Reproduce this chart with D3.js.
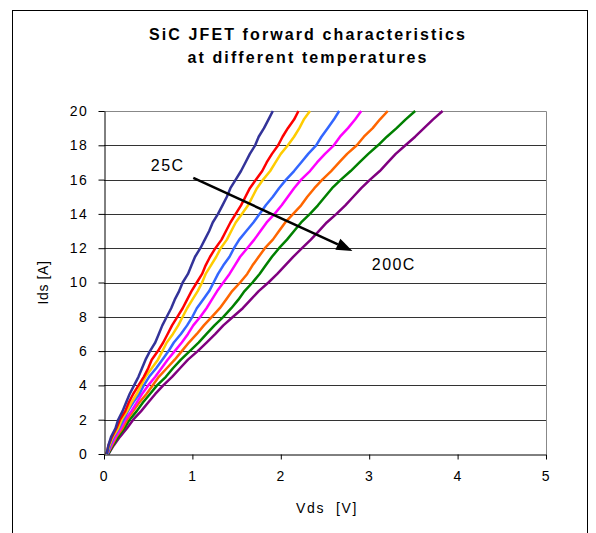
<!DOCTYPE html>
<html>
<head>
<meta charset="utf-8">
<script src="https://cdn.jsdelivr.net/npm/d3@7/dist/d3.min.js"></script>
<style>
  html, body { margin: 0; padding: 0; background: #fff; }
  svg { display: block; font-family: "Liberation Sans", Arial, sans-serif; }
</style>
</head>
<body>
<svg id="chart" width="596" height="533"></svg>
<script>
// Drain current (A) at which each curve is sampled
const current = [0, 0.5, 1, 1.5, 2, 2.5, 3, 3.5, 4, 4.5, 5, 5.5, 6, 6.5, 7, 7.5, 8, 8.5, 9, 9.5,
                 10, 10.5, 11, 11.5, 12, 12.5, 13, 13.5, 14, 14.5, 15, 15.5, 16, 16.5, 17, 17.5, 18, 18.5, 19, 19.5, 20];

// Drain-source voltage (V) for each temperature curve, 25C (first) to 200C (last)
const vds25  = [0.03, 0.05, 0.08, 0.13, 0.16, 0.21, 0.25, 0.29, 0.34, 0.39, 0.43, 0.47, 0.52, 0.58, 0.62, 0.66, 0.71, 0.76, 0.80, 0.85,
                0.89, 0.95, 0.99, 1.03, 1.09, 1.14, 1.19, 1.23, 1.29, 1.34, 1.39, 1.43, 1.49, 1.55, 1.60, 1.65, 1.71, 1.75, 1.81, 1.86, 1.91];
const vdsT2  = [0.03, 0.05, 0.09, 0.14, 0.18, 0.24, 0.28, 0.33, 0.39, 0.45, 0.50, 0.54, 0.61, 0.67, 0.72, 0.77, 0.83, 0.89, 0.94, 0.99,
                1.05, 1.11, 1.15, 1.20, 1.26, 1.33, 1.38, 1.43, 1.49, 1.55, 1.60, 1.65, 1.72, 1.79, 1.84, 1.90, 1.97, 2.02, 2.08, 2.15, 2.20];
const vdsT3  = [0.03, 0.06, 0.10, 0.16, 0.20, 0.26, 0.31, 0.37, 0.42, 0.47, 0.54, 0.61, 0.66, 0.71, 0.78, 0.84, 0.89, 0.94, 1.00, 1.06,
                1.11, 1.15, 1.21, 1.27, 1.32, 1.39, 1.44, 1.49, 1.56, 1.63, 1.68, 1.73, 1.80, 1.88, 1.94, 2.00, 2.08, 2.15, 2.21, 2.26, 2.33];
const vdsT4  = [0.04, 0.07, 0.11, 0.17, 0.22, 0.27, 0.33, 0.40, 0.45, 0.51, 0.59, 0.66, 0.73, 0.79, 0.87, 0.94, 1.00, 1.05, 1.12, 1.19,
                1.24, 1.29, 1.35, 1.42, 1.47, 1.53, 1.61, 1.69, 1.76, 1.83, 1.91, 1.98, 2.06, 2.15, 2.23, 2.31, 2.40, 2.46, 2.53, 2.60, 2.66];
const vdsT5  = [0.04, 0.08, 0.13, 0.19, 0.24, 0.31, 0.37, 0.43, 0.50, 0.58, 0.65, 0.72, 0.80, 0.88, 0.95, 1.01, 1.09, 1.16, 1.22, 1.28,
                1.35, 1.42, 1.48, 1.54, 1.62, 1.70, 1.77, 1.84, 1.93, 2.01, 2.08, 2.15, 2.23, 2.33, 2.41, 2.50, 2.60, 2.67, 2.76, 2.84, 2.91];
const vdsT6  = [0.04, 0.09, 0.14, 0.21, 0.26, 0.33, 0.40, 0.48, 0.55, 0.62, 0.71, 0.80, 0.88, 0.96, 1.05, 1.13, 1.22, 1.31, 1.38, 1.45,
                1.54, 1.62, 1.68, 1.75, 1.82, 1.91, 1.98, 2.05, 2.14, 2.23, 2.30, 2.38, 2.47, 2.57, 2.66, 2.75, 2.86, 2.94, 3.04, 3.12, 3.21];
const vdsT7  = [0.05, 0.10, 0.16, 0.23, 0.29, 0.37, 0.44, 0.52, 0.60, 0.70, 0.78, 0.87, 0.97, 1.07, 1.16, 1.25, 1.35, 1.44, 1.52, 1.59,
                1.68, 1.76, 1.83, 1.90, 1.98, 2.07, 2.15, 2.23, 2.33, 2.42, 2.50, 2.58, 2.68, 2.79, 2.89, 2.99, 3.10, 3.20, 3.31, 3.41, 3.52];
const vds200 = [0.05, 0.11, 0.18, 0.26, 0.33, 0.42, 0.50, 0.58, 0.67, 0.77, 0.86, 0.95, 1.06, 1.16, 1.26, 1.35, 1.46, 1.57, 1.66, 1.75,
                1.86, 1.96, 2.05, 2.14, 2.24, 2.34, 2.43, 2.52, 2.63, 2.73, 2.82, 2.91, 3.01, 3.12, 3.21, 3.30, 3.41, 3.52, 3.62, 3.72, 3.83];

const seriesColors = ["#333399", "#ff0000", "#ffcc00", "#3366ff", "#ff00ff", "#ff6600", "#008000", "#800080"];
const seriesValues = [vds25, vdsT2, vdsT3, vdsT4, vdsT5, vdsT6, vdsT7, vds200];

// Axis ticks
const xTicks = [0, 1, 2, 3, 4, 5];
const yTicks = [0, 2, 4, 6, 8, 10, 12, 14, 16, 18, 20];

const titleLines = ["SiC JFET forward characteristics", "at different temperatures"];

// Temperature trend arrow, in data units
const arrowStart = [1.01, 16.1];
const arrowEnd = [2.81, 11.84];
const label25 = { text: "25C", v: 0.53, i: 16.5 };
const label200 = { text: "200C", v: 3.03, i: 10.75 };

const svg = d3.select("#chart");
const plot = { left: 104, right: 546, top: 111, bottom: 454 };

const x = d3.scaleLinear().domain([0, 5]).range([plot.left, plot.right]);
const y = d3.scaleLinear().domain([0, 20]).range([plot.bottom, plot.top]);

// Outer chart frame
svg.append("rect")
  .attr("x", 12.5).attr("y", 10.5)
  .attr("width", 575).attr("height", 540)
  .attr("fill", "#fff").attr("stroke", "#000").attr("stroke-width", 1);

// Title
svg.append("g").selectAll("text")
  .data(titleLines).join("text")
  .attr("x", 308).attr("y", (d, k) => 40 + k * 23)
  .attr("text-anchor", "middle")
  .attr("font-size", 16).attr("font-weight", "bold")
  .attr("letter-spacing", 2.1)
  .text(d => d);

// Horizontal gridlines
svg.append("g").selectAll("line")
  .data(yTicks.filter(t => t > 0 && t < 20)).join("line")
  .attr("x1", plot.left).attr("x2", plot.right)
  .attr("y1", d => Math.round(y(d)) + 0.5).attr("y2", d => Math.round(y(d)) + 0.5)
  .attr("stroke", "#333").attr("stroke-width", 1);

// Plot area border (top and right)
svg.append("path")
  .attr("d", `M${plot.left},${plot.top + 0.5}H${plot.right + 0.5}V${plot.bottom}`)
  .attr("fill", "none").attr("stroke", "#888").attr("stroke-width", 1);

// Curves
const line = d3.line()
  .x(d => x(d[0]))
  .y(d => y(d[1]));

svg.append("g").selectAll("path")
  .data(seriesValues.map((vals, k) => ({ color: seriesColors[k], pts: vals.map((v, j) => [v, current[j]]) })).reverse())
  .join("path")
  .attr("d", d => line(d.pts))
  .attr("fill", "none")
  .attr("stroke", d => d.color)
  .attr("stroke-width", 2.5)
  .attr("stroke-linejoin", "round");

// Axes
const xAxis = svg.append("g")
  .attr("transform", `translate(0,${plot.bottom + 0.5})`)
  .call(d3.axisBottom(x).tickValues(xTicks).tickSize(5).tickSizeOuter(0).tickPadding(12).tickFormat(d3.format("d")));
const yAxis = svg.append("g")
  .attr("transform", `translate(${plot.left + 0.5},0)`)
  .call(d3.axisLeft(y).tickValues(yTicks).tickSize(6).tickSizeOuter(0).tickPadding(10).tickFormat(d3.format("d")));

[xAxis, yAxis].forEach(g => {
  g.selectAll("path.domain").attr("stroke", "#000");
  g.selectAll(".tick line").attr("stroke", "#000");
  g.selectAll(".tick text")
    .attr("font-family", "\"Liberation Sans\", Arial, sans-serif")
    .attr("font-size", 14).attr("fill", "#000")
    .attr("letter-spacing", 1.6);
});

// Axis titles
svg.append("text")
  .attr("x", 327).attr("y", 513)
  .attr("text-anchor", "middle").attr("font-size", 14)
  .attr("letter-spacing", 1.6)
  .style("white-space", "pre")
  .text("Vds  [V]");
svg.append("text")
  .attr("transform", `translate(48,${(plot.top + plot.bottom) / 2}) rotate(-90)`)
  .attr("text-anchor", "middle").attr("font-size", 14)
  .attr("letter-spacing", 0.6)
  .text("Ids [A]");

// Trend arrow from 25C to 200C
const ax0 = x(arrowStart[0]), ay0 = y(arrowStart[1]);
const ax1 = x(arrowEnd[0]), ay1 = y(arrowEnd[1]);
const ang = Math.atan2(ay1 - ay0, ax1 - ax0);
const headLen = 16, headHalf = 6;
const bx = ax1 - headLen * Math.cos(ang), by = ay1 - headLen * Math.sin(ang);
svg.append("line")
  .attr("x1", ax0).attr("y1", ay0).attr("x2", bx).attr("y2", by)
  .attr("stroke", "#000").attr("stroke-width", 2.5);
svg.append("path")
  .attr("d", `M${ax1},${ay1}L${bx + headHalf * Math.sin(ang)},${by - headHalf * Math.cos(ang)}L${bx - headHalf * Math.sin(ang)},${by + headHalf * Math.cos(ang)}Z`)
  .attr("fill", "#000");

svg.append("g").selectAll("text")
  .data([label25, label200]).join("text")
  .attr("x", d => x(d.v)).attr("y", d => y(d.i))
  .attr("font-size", 16).attr("letter-spacing", 1.4)
  .text(d => d.text);
</script>
</body>
</html>
